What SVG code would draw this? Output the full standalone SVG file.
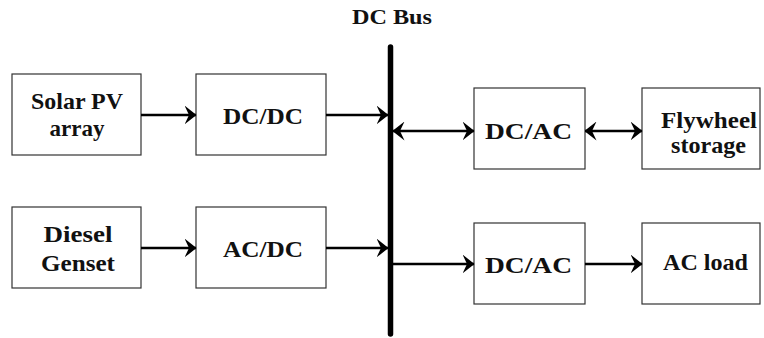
<svg xmlns="http://www.w3.org/2000/svg" width="764" height="338" viewBox="0 0 764 338">
<style>
.box{fill:#fff;stroke:#333;stroke-width:1.2}
text{text-anchor:middle;fill:#111}
.big{font-size:24px}
.c{stroke:#000;stroke-width:2.6;fill:none}
</style>
<defs>
<marker id="ah" viewBox="0 0 12 19" refX="11.5" refY="9.5" markerWidth="12" markerHeight="19" markerUnits="userSpaceOnUse" orient="auto-start-reverse">
<path d="M0,0 L12,9.5 L0,19 L4.5,9.5 z" fill="#000"/>
</marker>
</defs>
<rect width="764" height="338" fill="#fff"/>
<g font-family="Liberation Serif" font-weight="bold" font-size="23">
<g id="dcbus">
<line x1="390.5" y1="47" x2="390.5" y2="334" stroke="#000" stroke-width="5.5" stroke-linecap="round"/>
<text x="392" y="24" font-size="21" textLength="80" lengthAdjust="spacingAndGlyphs">DC Bus</text>
</g>
<g id="solar">
<rect class="box" x="12" y="74" width="129" height="81"/>
<text x="77" y="109" textLength="92" lengthAdjust="spacingAndGlyphs">Solar PV</text>
<text x="77" y="136" textLength="55" lengthAdjust="spacingAndGlyphs">array</text>
</g>
<g id="dcdc">
<rect class="box" x="196" y="74" width="130" height="81"/>
<text class="big" x="263" y="124" textLength="80" lengthAdjust="spacingAndGlyphs">DC/DC</text>
</g>
<g id="diesel">
<rect class="box" x="12" y="207" width="129" height="81"/>
<text x="78" y="242" textLength="69" lengthAdjust="spacingAndGlyphs">Diesel</text>
<text x="78" y="271" textLength="74" lengthAdjust="spacingAndGlyphs">Genset</text>
</g>
<g id="acdc">
<rect class="box" x="196" y="207" width="130" height="81"/>
<text class="big" x="263" y="257" textLength="80" lengthAdjust="spacingAndGlyphs">AC/DC</text>
</g>
<g id="dcac1">
<rect class="box" x="474" y="88" width="111" height="81"/>
<text class="big" x="528.5" y="139" textLength="87" lengthAdjust="spacingAndGlyphs">DC/AC</text>
</g>
<g id="flywheel">
<rect class="box" x="642" y="88" width="118" height="81"/>
<text x="709" y="128" textLength="96" lengthAdjust="spacingAndGlyphs">Flywheel</text>
<text x="708.5" y="153" textLength="75" lengthAdjust="spacingAndGlyphs">storage</text>
</g>
<g id="dcac2">
<rect class="box" x="474" y="223" width="111" height="81"/>
<text class="big" x="528.5" y="273" textLength="87" lengthAdjust="spacingAndGlyphs">DC/AC</text>
</g>
<g id="acload">
<rect class="box" x="642" y="223" width="118" height="81"/>
<text class="big" x="705.5" y="270" textLength="85" lengthAdjust="spacingAndGlyphs">AC load</text>
</g>
</g>
<g id="connectors">
<line class="c" x1="141" y1="115" x2="196" y2="115" marker-end="url(#ah)"/>
<line class="c" x1="326" y1="115" x2="388" y2="115" marker-end="url(#ah)"/>
<line class="c" x1="141" y1="248" x2="196" y2="248" marker-end="url(#ah)"/>
<line class="c" x1="326" y1="248" x2="388" y2="248" marker-end="url(#ah)"/>
<line class="c" x1="393" y1="131" x2="474" y2="131" marker-start="url(#ah)" marker-end="url(#ah)"/>
<line class="c" x1="585" y1="131" x2="642" y2="131" marker-start="url(#ah)" marker-end="url(#ah)"/>
<line class="c" x1="393" y1="264" x2="474" y2="264" marker-end="url(#ah)"/>
<line class="c" x1="585" y1="264" x2="642" y2="264" marker-end="url(#ah)"/>
</g>
</svg>
